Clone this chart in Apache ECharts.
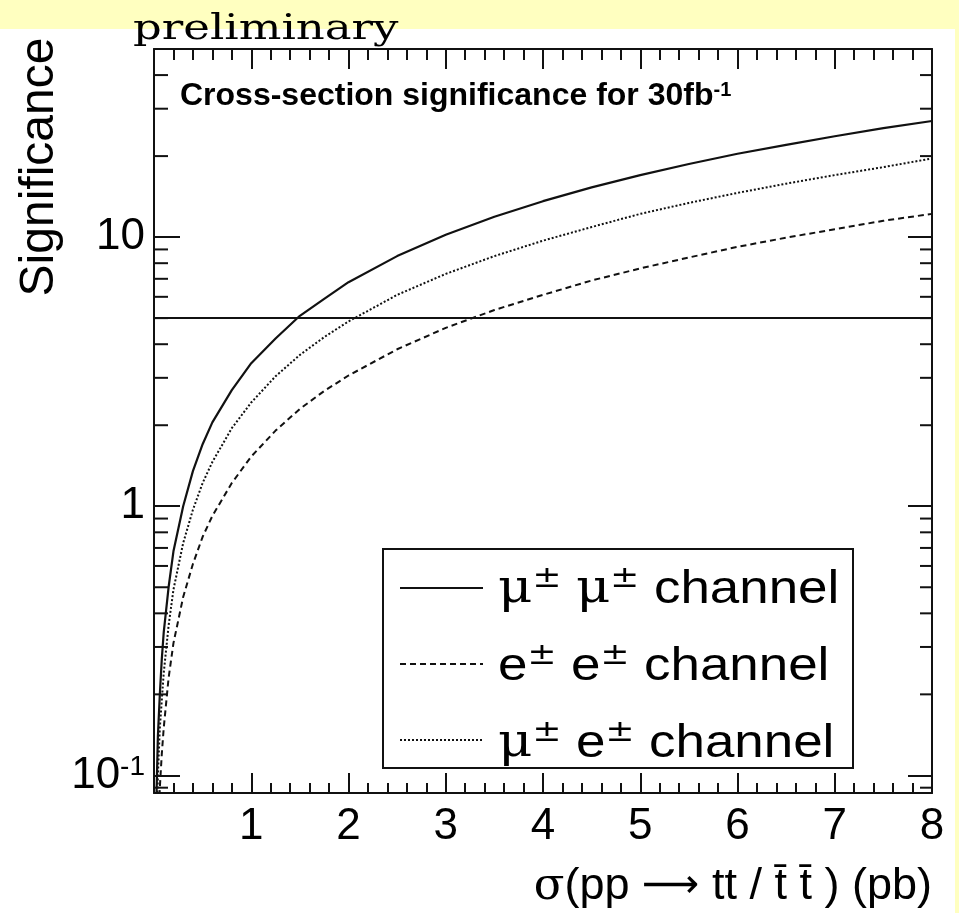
<!DOCTYPE html>
<html>
<head>
<meta charset="utf-8">
<script src="https://cdn.jsdelivr.net/npm/echarts@6/dist/echarts.min.js"></script>
<style>
  html, body { margin: 0; padding: 0; background: #FFFFC0; }
  #chart { width: 959px; height: 913px; }
</style>
</head>
<body>
<div id="chart"></div>
<script>
// Cross-section sampling points sigma(pp -> tt / tbar tbar), in pb
const sigma = [0.02, 0.04, 0.06, 0.08, 0.1, 0.15, 0.2, 0.3, 0.4, 0.5, 0.6, 0.8, 1, 1.25, 1.5, 1.75, 2, 2.5, 3, 3.5, 4, 4.5, 5, 5.5, 6, 6.5, 7, 7.5, 8];

// Expected significance for 30 fb^-1, per channel
const sigMuMu = [0.07, 0.14, 0.2, 0.27, 0.34, 0.5, 0.68, 1.0, 1.35, 1.7, 2.05, 2.7, 3.4, 4.2, 5.1, 5.9, 6.8, 8.5, 10.2, 11.9, 13.6, 15.3, 17.0, 18.7, 20.4, 22.0, 23.7, 25.4, 27.0];
const sigEE   = [0.03, 0.06, 0.09, 0.12, 0.15, 0.23, 0.31, 0.46, 0.61, 0.77, 0.92, 1.22, 1.53, 1.91, 2.3, 2.68, 3.06, 3.83, 4.6, 5.36, 6.1, 6.9, 7.65, 8.4, 9.2, 9.95, 10.7, 11.5, 12.2];
const sigMuE  = [0.05, 0.1, 0.15, 0.19, 0.24, 0.36, 0.49, 0.73, 0.97, 1.22, 1.46, 1.95, 2.43, 3.04, 3.65, 4.25, 4.86, 6.1, 7.3, 8.5, 9.7, 10.9, 12.2, 13.4, 14.6, 15.8, 17.0, 18.2, 19.6];

// 5 sigma discovery threshold
const discoveryLevel = 5;

// Axis ranges and ticks
const xRange = [0, 8];
const yRange = [0.086, 50];
const xTickLabels = ['1', '2', '3', '4', '5', '6', '7', '8'];
const yTickValues = [0.1, 1, 10];
const yTickLabels = ['{b|10}{s|-1}', '1', '10'];
const yMinorTicks = [0.09, 0.2, 0.3, 0.4, 0.5, 0.6, 0.7, 0.8, 0.9, 2, 3, 4, 5, 6, 7, 8, 9, 20, 30, 40];

const channelNames = ['μ± μ± channel', 'e± e± channel', 'μ± e± channel'];
const channelRich = ['{g|μ}{s|±} {g|μ}{s|±} channel', '{t|e}{s|±} {t|e}{s|±} channel', '{g|μ}{s|±} {t|e}{s|±} channel'];

const INK = '#111';
const SANS = '"Liberation Sans", Arial, Helvetica, sans-serif';
const SERIF = '"DejaVu Serif", "Liberation Serif", serif';
const dashEE = [6, 4];
const dashMuE = [2, 2];

const pairs = ys => sigma.map((x, i) => [x, ys[i]]);

function yLabel(v) {
  for (let i = 0; i < yTickValues.length; i++) {
    if (Math.abs(Math.log10(v) - Math.log10(yTickValues[i])) < 1e-6) return yTickLabels[i];
  }
  return '';
}
function xLabel(v) {
  const i = Math.round(v) - 1;
  return (Math.abs(v - Math.round(v)) < 1e-6 && i >= 0 && i < xTickLabels.length) ? xTickLabels[i] : '';
}

const chart = echarts.init(document.getElementById('chart'), null, { renderer: 'canvas' });

const grid = { left: 154, right: 27, top: 49, bottom: 120 };

const axisLineStyle = { color: INK, width: 2 };

const option = {
  backgroundColor: '#FFFFC0',
  animation: false,
  grid: grid,
  xAxis: [
    {
      type: 'value', position: 'bottom', min: xRange[0], max: xRange[1], interval: 1,
      axisLine: { show: true, onZero: false, lineStyle: axisLineStyle },
      axisTick: { show: true, inside: true, length: 20, lineStyle: { color: INK, width: 2 } },
      minorTick: { show: true, splitNumber: 5, length: 10, lineStyle: { color: INK, width: 2 } },
      splitLine: { show: false },
      axisLabel: {
        formatter: xLabel, margin: 12, color: '#000',
        fontFamily: SANS, fontSize: 44, showMinLabel: true, showMaxLabel: true
      }
    },
    {
      type: 'value', position: 'top', min: xRange[0], max: xRange[1], interval: 1,
      axisLine: { show: true, onZero: false, lineStyle: axisLineStyle },
      axisTick: { show: true, inside: true, length: 20, lineStyle: { color: INK, width: 2 } },
      minorTick: { show: true, splitNumber: 5, length: 11, lineStyle: { color: INK, width: 2 } },
      splitLine: { show: false },
      axisLabel: { show: false }
    }
  ],
  yAxis: [
    {
      type: 'log', logBase: 10, position: 'left', min: yRange[0], max: yRange[1],
      axisLine: { show: true, onZero: false, lineStyle: axisLineStyle },
      axisTick: { show: true, inside: true, length: 26, lineStyle: { color: INK, width: 2 } },
      splitLine: { show: false },
      axisLabel: {
        formatter: yLabel, margin: 9, color: '#000', fontFamily: SANS, fontSize: 44,
        rich: {
          b: { fontFamily: SANS, fontSize: 44, color: '#000' },
          s: { fontFamily: SANS, fontSize: 28, color: '#000', verticalAlign: 'top', padding: [0, 0, 16, 0] }
        }
      }
    },
    {
      type: 'log', logBase: 10, position: 'right', min: yRange[0], max: yRange[1],
      axisLine: { show: true, onZero: false, lineStyle: axisLineStyle },
      axisTick: { show: true, inside: true, length: 24, lineStyle: { color: INK, width: 2 } },
      splitLine: { show: false },
      axisLabel: { show: false }
    }
  ],
  series: [
    {
      name: channelNames[0], type: 'line', data: pairs(sigMuMu),
      symbol: 'none', showSymbol: false, clip: true, z: 3,
      lineStyle: { color: INK, width: 2.2, type: 'solid' },
      markLine: {
        silent: true, symbol: 'none', label: { show: false },
        lineStyle: { color: INK, width: 2, type: 'solid' },
        data: [{ yAxis: discoveryLevel }]
      }
    },
    {
      name: channelNames[1], type: 'line', data: pairs(sigEE),
      symbol: 'none', showSymbol: false, clip: true, z: 3,
      lineStyle: { color: INK, width: 2, type: dashEE }
    },
    {
      name: channelNames[2], type: 'line', data: pairs(sigMuE),
      symbol: 'none', showSymbol: false, clip: true, z: 3,
      lineStyle: { color: INK, width: 2, type: dashMuE }
    },
    {
      // minor log ticks (2..9 of each decade) on the left and right frame
      type: 'custom', silent: true, z: 4,
      data: yMinorTicks.map(v => [xRange[0], v]),
      renderItem: function (params, api) {
        const v = api.value(1);
        const pl = api.coord([xRange[0], v]);
        const pr = api.coord([xRange[1], v]);
        const st = { stroke: INK, lineWidth: 2 };
        return {
          type: 'group',
          children: [
            { type: 'line', shape: { x1: pl[0], y1: pl[1], x2: pl[0] + 14, y2: pl[1] }, style: st },
            { type: 'line', shape: { x1: pr[0], y1: pr[1], x2: pr[0] - 12, y2: pr[1] }, style: st }
          ]
        };
      }
    }
  ],
  graphic: [
    // white panel behind the plot
    { type: 'rect', z: -100, silent: true, shape: { x: 0, y: 29, width: 955, height: 884 }, style: { fill: '#ffffff' } },
    // "preliminary" stamp
    {
      type: 'text', z: 50, x: 133, y: 30, scaleX: 1.25, scaleY: 1,
      style: { text: 'preliminary', font: '36px ' + SERIF, fill: '#000', align: 'left', verticalAlign: 'middle' }
    },
    // plot title
    {
      type: 'text', z: 50, x: 180, y: 96,
      style: {
        text: '{b|Cross-section significance for 30fb}{s|-1}', align: 'left', verticalAlign: 'middle',
        rich: {
          b: { fontFamily: SANS, fontWeight: 'bold', fontSize: 32, fill: '#000' },
          s: { fontFamily: SANS, fontWeight: 'bold', fontSize: 20, fill: '#000', verticalAlign: 'top', padding: [0, 0, 12, 0] }
        }
      }
    },
    // y axis title
    {
      type: 'text', z: 50, x: 40, y: 167, rotation: Math.PI / 2,
      style: { text: 'Significance', font: '48px ' + SANS, fill: '#000', align: 'center', verticalAlign: 'middle' }
    },
    // x axis title
    {
      type: 'text', z: 50, x: 932, y: 887,
      style: {
        text: '{g|σ}(pp {a|⟶} tt / t\u0304 t\u0304 ) (pb)', align: 'right', verticalAlign: 'middle',
        font: '45px ' + SANS, fill: '#000',
        rich: {
          g: { fontFamily: SERIF, fontSize: 45, fill: '#000' },
          a: { fontFamily: '"DejaVu Sans", sans-serif', fontSize: 40, fill: '#000' }
        }
      }
    },
    // legend box
    { type: 'rect', z: 60, shape: { x: 383, y: 549, width: 470, height: 219 }, style: { fill: '#fff', stroke: INK, lineWidth: 2 } },
    { type: 'line', z: 61, shape: { x1: 400, y1: 588, x2: 483, y2: 588 }, style: { stroke: INK, lineWidth: 2 } },
    { type: 'line', z: 61, shape: { x1: 400, y1: 664, x2: 483, y2: 664 }, style: { stroke: INK, lineWidth: 2, lineDash: dashEE } },
    { type: 'line', z: 61, shape: { x1: 400, y1: 740, x2: 483, y2: 740 }, style: { stroke: INK, lineWidth: 2, lineDash: dashMuE } }
  ].concat(channelRich.map((txt, i) => ({
    type: 'text', z: 61, x: 498, y: 590 + i * 77, scaleX: 1.15,
    style: {
      text: txt, align: 'left', verticalAlign: 'middle', font: '46px ' + SANS, fill: '#000',
      rich: {
        g: { fontFamily: SERIF, fontSize: 46, fill: '#000' },
        t: { fontFamily: SANS, fontSize: 46, fill: '#000' },
        s: { fontFamily: '"DejaVu Sans", sans-serif', fontSize: 30, fill: '#000', verticalAlign: 'top', padding: [0, 0, 22, 0] }
      }
    }
  })))
};

chart.setOption(option);
</script>
</body>
</html>
